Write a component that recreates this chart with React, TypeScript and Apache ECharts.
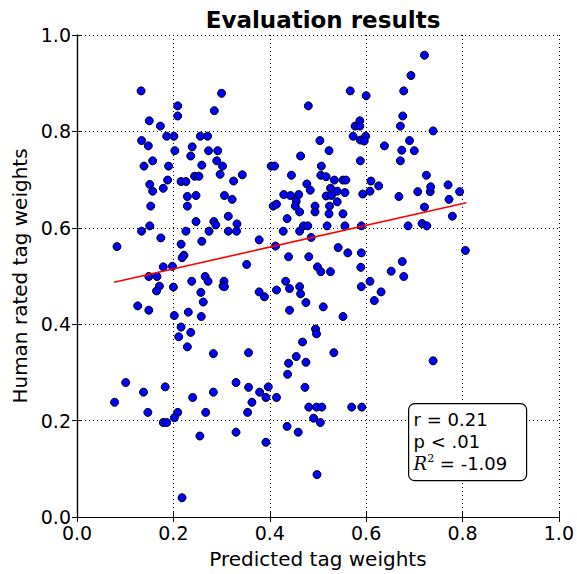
import React, { useEffect, useRef } from "react";
import * as echarts from "echarts";

const title = "Evaluation results";
const xLabel = "Predicted tag weights";
const yLabel = "Human rated tag weights";
const tickValues = [0, 0.2, 0.4, 0.6, 0.8, 1.0];

const predicted = [
  0.133, 0.300, 0.209, 0.285, 0.209, 0.150, 0.173, 0.186, 0.201, 0.256,
  0.271, 0.134, 0.148, 0.239, 0.203, 0.273, 0.292, 0.236, 0.157, 0.290,
  0.139, 0.190, 0.259, 0.302, 0.244, 0.253, 0.297, 0.188, 0.216, 0.226,
  0.325, 0.343, 0.151, 0.179, 0.157, 0.229, 0.247, 0.306, 0.322,
  0.153, 0.229, 0.314, 0.247, 0.284, 0.288, 0.151, 0.332, 0.134, 0.226,
  0.274, 0.314, 0.331, 0.174, 0.259, 0.216, 0.083, 0.222, 0.218, 0.179,
  0.198, 0.149, 0.166, 0.266, 0.272, 0.238, 0.305, 0.303, 0.306, 0.171,
  0.200, 0.165, 0.257, 0.262, 0.126, 0.149, 0.231, 0.202, 0.258, 0.216,
  0.236, 0.211, 0.229, 0.283,
  0.101, 0.183, 0.330, 0.138, 0.283, 0.240, 0.078, 0.147, 0.209, 0.267,
  0.202, 0.179, 0.186, 0.330, 0.255, 0.218,
  0.567, 0.600, 0.480, 0.587, 0.577, 0.587, 0.676, 0.671, 0.573, 0.588,
  0.599, 0.596, 0.504, 0.638, 0.523, 0.674, 0.464, 0.588, 0.671, 0.403,
  0.410, 0.507, 0.445, 0.506, 0.517, 0.534, 0.552, 0.558, 0.610, 0.477,
  0.484, 0.526, 0.626, 0.429, 0.443, 0.460, 0.517, 0.528, 0.540, 0.556,
  0.593, 0.608, 0.668,
  0.455, 0.407, 0.414, 0.453, 0.462, 0.494, 0.494, 0.524, 0.523, 0.540,
  0.552, 0.436, 0.428, 0.462, 0.470, 0.479, 0.519, 0.556, 0.590, 0.378,
  0.412, 0.486, 0.542, 0.562, 0.590, 0.439, 0.481, 0.352, 0.499, 0.506,
  0.526, 0.589, 0.652, 0.675, 0.433, 0.441, 0.462, 0.464, 0.378, 0.389,
  0.414, 0.475, 0.511, 0.441, 0.552, 0.608, 0.631, 0.617, 0.590, 0.495,
  0.497, 0.468,
  0.356, 0.455, 0.439, 0.475, 0.533, 0.437, 0.356, 0.379, 0.397, 0.392,
  0.414, 0.363, 0.473, 0.354, 0.481, 0.497, 0.508, 0.570, 0.591, 0.491,
  0.505, 0.436, 0.459, 0.392, 0.498,
  0.739, 0.707, 0.733, 0.772, 0.794, 0.721, 0.779, 0.687, 0.716, 0.726,
  0.806, 0.678, 0.721, 0.693, 0.678, 0.739, 0.690, 0.700, 0.725, 0.734,
  0.770,
];

const humanRated = [
  0.884, 0.879, 0.853, 0.843, 0.832, 0.822, 0.811, 0.790, 0.790, 0.790,
  0.790, 0.781, 0.770, 0.768, 0.760, 0.760, 0.760, 0.749, 0.739, 0.739,
  0.728, 0.728, 0.730, 0.728, 0.707, 0.707, 0.711, 0.699, 0.696, 0.696,
  0.697, 0.710, 0.690, 0.682, 0.676, 0.665, 0.667, 0.667, 0.659,
  0.645, 0.645, 0.624, 0.613, 0.613, 0.606, 0.604, 0.608, 0.593, 0.593,
  0.593, 0.593, 0.593, 0.579, 0.572, 0.566, 0.561, 0.543, 0.538, 0.519,
  0.520, 0.499, 0.499, 0.499, 0.489, 0.489, 0.489, 0.479, 0.478, 0.479,
  0.477, 0.469, 0.466, 0.446, 0.438, 0.429, 0.425, 0.418, 0.416, 0.394,
  0.383, 0.374, 0.353, 0.339,
  0.279, 0.270, 0.279, 0.259, 0.259, 0.248, 0.238, 0.217, 0.217, 0.217,
  0.206, 0.196, 0.196, 0.176, 0.168, 0.040,
  0.884, 0.874, 0.853, 0.822, 0.811, 0.811, 0.832, 0.811, 0.790, 0.782,
  0.790, 0.780, 0.781, 0.770, 0.760, 0.761, 0.749, 0.739, 0.739, 0.728,
  0.728, 0.728, 0.709, 0.709, 0.706, 0.699, 0.699, 0.699, 0.697, 0.691,
  0.678, 0.682, 0.687, 0.669, 0.667, 0.669, 0.666, 0.667, 0.676, 0.673,
  0.670, 0.676, 0.665,
  0.655, 0.645, 0.649, 0.645, 0.633, 0.645, 0.633, 0.645, 0.629, 0.654,
  0.629, 0.619, 0.593, 0.593, 0.604, 0.604, 0.604, 0.604, 0.604, 0.575,
  0.562, 0.580, 0.559, 0.548, 0.548, 0.540, 0.540, 0.524, 0.519, 0.509,
  0.509, 0.518, 0.510, 0.530, 0.489, 0.474, 0.478, 0.463, 0.467, 0.457,
  0.471, 0.445, 0.436, 0.429, 0.416, 0.489, 0.467, 0.449, 0.478, 0.390,
  0.380, 0.363,
  0.341, 0.333, 0.319, 0.321, 0.341, 0.296, 0.269, 0.259, 0.270, 0.248,
  0.248, 0.238, 0.269, 0.217, 0.228, 0.228, 0.228, 0.228, 0.228, 0.205,
  0.196, 0.188, 0.176, 0.155, 0.088,
  0.324, 0.675, 0.675, 0.659, 0.675, 0.643, 0.624, 0.604, 0.609, 0.604,
  0.553, 0.499, 0.958, 0.916, 0.884, 0.801, 0.781, 0.760, 0.709, 0.685,
  0.689,
];

// regression fit line end points (x, y)
const fitX = [0.077, 0.808];
const fitY = [0.487, 0.652];

const statsLines = ["r = 0.21", "p < .01", "-1.09"];

const FONT = "DejaVu Sans";

export default function App() {
  const ref = useRef<HTMLDivElement>(null);
  useEffect(() => {
    if (!ref.current) return;
    const chart = echarts.init(ref.current, null, { renderer: "svg" });
    const points = predicted.map((x, i) => [x, humanRated[i]]);
    const fit = fitX.map((x, i) => [x, fitY[i]]);
    const axisCommon = {
      type: "value" as const,
      min: tickValues[0],
      max: tickValues[tickValues.length - 1],
      interval: 0.2,
      axisLine: { show: true, lineStyle: { color: "#000", width: 1.2 } },
      axisTick: { show: true, inside: true, length: 5, lineStyle: { color: "#000", width: 1 } },
    };
    chart.setOption({
      animation: false,
      backgroundColor: "#fff",
      title: {
        text: title,
        left: 318,
        top: 3,
        textAlign: "center",
        textStyle: { fontFamily: FONT, fontSize: 23, fontWeight: "bold", color: "#000" },
      },
      grid: { left: 77, right: 17.5, top: 35, bottom: 57 },
      xAxis: [
        {
          ...axisCommon,
          position: "bottom",
          name: xLabel,
          nameLocation: "middle",
          nameGap: 32,
          nameTextStyle: { fontFamily: FONT, fontSize: 20, color: "#000" },
          axisLabel: {
            fontFamily: FONT,
            fontSize: 19,
            color: "#000",
            margin: 6,
            formatter: (v: number) => v.toFixed(1),
          },
          splitLine: { show: true, lineStyle: { color: "#000", type: [1, 3], width: 1 } },
        },
        {
          ...axisCommon,
          position: "top",
          axisLabel: { show: false },
          splitLine: { show: false },
        },
      ],
      yAxis: [
        {
          ...axisCommon,
          position: "left",
          name: yLabel,
          nameLocation: "middle",
          nameGap: 42,
          nameTextStyle: { fontFamily: FONT, fontSize: 20, color: "#000" },
          axisLabel: {
            fontFamily: FONT,
            fontSize: 19,
            color: "#000",
            margin: 6,
            formatter: (v: number) => v.toFixed(1),
          },
          splitLine: { show: true, lineStyle: { color: "#000", type: [1, 3], width: 1 } },
        },
        {
          ...axisCommon,
          position: "right",
          axisLabel: { show: false },
          splitLine: { show: false },
        },
      ],
      series: [
        {
          type: "scatter",
          data: points,
          symbol: "circle",
          symbolSize: 8,
          itemStyle: { color: "#0000ff", borderColor: "#000", borderWidth: 1, opacity: 1 },
          z: 3,
        },
        {
          type: "line",
          data: fit,
          symbol: "none",
          lineStyle: { color: "#ff0000", width: 1.6 },
          z: 4,
        },
      ],
      graphic: [
        {
          type: "group",
          left: 408,
          top: 403,
          z: 100,
          children: [
            {
              type: "rect",
              z: 100,
              shape: { x: 0, y: 0, width: 118, height: 77, r: 6 },
              style: { fill: "#fff", stroke: "#000", lineWidth: 1.2 },
            },
            {
              type: "text",
              z: 101,
              x: 5,
              y: 5,
              style: {
                text:
                  "{n|" + statsLines[0] + "}\n{n|" + statsLines[1] + "}\n{i|R}{s|2}{n| = " + statsLines[2] + "}",
                fontFamily: FONT,
                fontSize: 18,
                lineHeight: 22,
                fill: "#000",
                rich: {
                  i: { fontFamily: "DejaVu Serif", fontStyle: "italic", fontSize: 18, lineHeight: 22, fill: "#000" },
                  s: { fontFamily: "DejaVu Serif", fontSize: 11, lineHeight: 22, fill: "#000", verticalAlign: "top" },
                  n: { fontFamily: FONT, fontSize: 18, lineHeight: 22, fill: "#000" },
                },
              },
            },
          ],
        },
      ],
    });
    return () => chart.dispose();
  }, []);
  return <div ref={ref} style={{ position: "absolute", left: 0, top: 0, width: 577, height: 574 }} />;
}
